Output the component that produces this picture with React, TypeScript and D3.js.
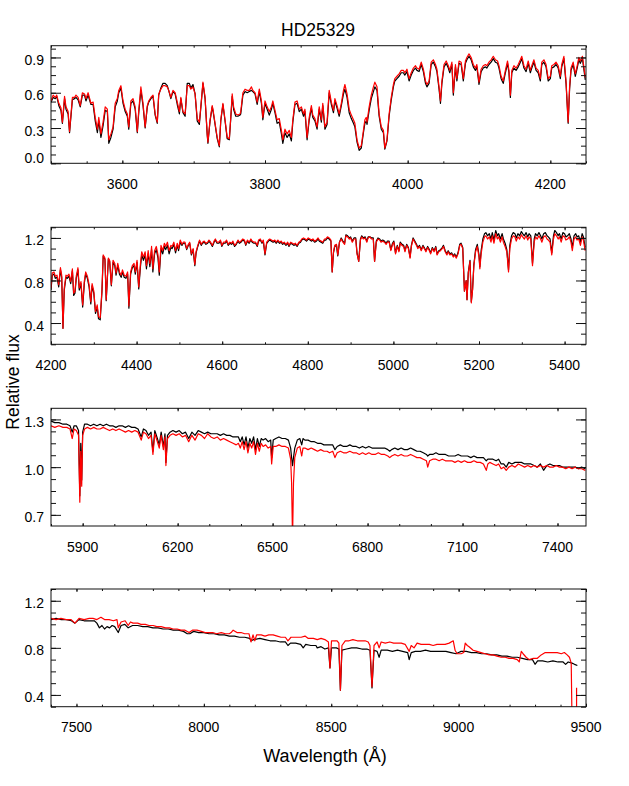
import React, { useEffect, useRef } from "react";
import * as d3 from "d3";

// ---------- panel 1 : 3500 - 4250 A ----------
const wl1 = [
  3500, 3503, 3506, 3508, 3511, 3514, 3516, 3519, 3521, 3524,
  3526, 3530, 3533, 3535, 3538, 3541, 3544, 3547, 3549, 3552,
  3556, 3559, 3562, 3565, 3567, 3570, 3573, 3576, 3579, 3581,
  3584, 3587, 3590, 3593, 3595, 3598, 3601, 3604, 3607, 3609,
  3612, 3615, 3618, 3621, 3623, 3626, 3629, 3632, 3635, 3637,
  3640, 3643, 3646, 3649, 3651, 3654, 3657, 3660, 3663, 3665,
  3668, 3671, 3674, 3677, 3680, 3682, 3685, 3688, 3691, 3694,
  3696, 3699, 3702, 3705, 3708, 3710, 3713, 3716, 3719, 3720,
  3723, 3726, 3727, 3730, 3733, 3736, 3738, 3741, 3744, 3747,
  3750, 3752, 3754, 3756, 3759, 3762, 3765, 3766, 3769, 3772,
  3775, 3778, 3781, 3783, 3786, 3789, 3792, 3795, 3797, 3800,
  3803, 3806, 3809, 3811, 3814, 3817, 3820, 3823, 3825, 3828,
  3831, 3834, 3837, 3839, 3842, 3845, 3848, 3851, 3854, 3856,
  3859, 3862, 3865, 3867, 3870, 3873, 3876, 3879, 3881, 3884,
  3887, 3890, 3893, 3896, 3898, 3901, 3904, 3907, 3910, 3912,
  3915, 3918, 3921, 3924, 3926, 3929, 3932, 3935, 3938, 3940,
  3942, 3943, 3946, 3949, 3952, 3954, 3957, 3960, 3963, 3966,
  3968, 3971, 3974, 3977, 3980, 3982, 3985, 3988, 3991, 3994,
  3996, 3999, 4002, 4005, 4008, 4011, 4013, 4016, 4019, 4022,
  4025, 4027, 4030, 4033, 4036, 4039, 4041, 4044, 4046, 4048,
  4051, 4054, 4057, 4059, 4062, 4064, 4067, 4069, 4072, 4075,
  4078, 4081, 4083, 4086, 4089, 4092, 4095, 4097, 4100, 4103,
  4106, 4109, 4111, 4114, 4117, 4120, 4123, 4126, 4128, 4131,
  4134, 4137, 4140, 4142, 4144, 4146, 4149, 4152, 4155, 4158,
  4160, 4163, 4166, 4169, 4172, 4174, 4177, 4180, 4183, 4186,
  4188, 4191, 4194, 4197, 4200, 4202, 4205, 4208, 4211, 4214,
  4216, 4219, 4222, 4225, 4227, 4229, 4232, 4235, 4238, 4240,
  4242, 4245, 4249,
];
const red1 = [
  0.53, 0.58, 0.56, 0.58, 0.51, 0.47, 0.35, 0.57, 0.48, 0.44,
  0.27, 0.56, 0.56, 0.58, 0.56, 0.49, 0.6, 0.59, 0.55, 0.6,
  0.51, 0.52, 0.39, 0.29, 0.39, 0.25, 0.35, 0.48, 0.46, 0.2,
  0.25, 0.31, 0.51, 0.55, 0.62, 0.66, 0.53, 0.46, 0.42, 0.31,
  0.53, 0.55, 0.48, 0.27, 0.45, 0.65, 0.51, 0.31, 0.49, 0.53,
  0.56, 0.58, 0.42, 0.35, 0.59, 0.63, 0.66, 0.66, 0.65, 0.62,
  0.56, 0.62, 0.6, 0.52, 0.44, 0.56, 0.44, 0.42, 0.66, 0.66,
  0.63, 0.65, 0.59, 0.38, 0.35, 0.48, 0.69, 0.56, 0.25, 0.18,
  0.37, 0.49, 0.46, 0.34, 0.22, 0.15, 0.37, 0.51, 0.37, 0.22,
  0.21, 0.39, 0.59, 0.48, 0.42, 0.41, 0.42, 0.44, 0.6, 0.63,
  0.62, 0.62, 0.65, 0.62, 0.6, 0.52, 0.63, 0.53, 0.39, 0.53,
  0.48, 0.44, 0.48, 0.53, 0.45, 0.37, 0.38, 0.28, 0.2, 0.29,
  0.25, 0.28, 0.22, 0.37, 0.52, 0.53, 0.46, 0.48, 0.42, 0.46,
  0.22, 0.39, 0.49, 0.41, 0.38, 0.31, 0.48, 0.37, 0.51, 0.31,
  0.35, 0.62, 0.52, 0.45, 0.55, 0.49, 0.42, 0.51, 0.62, 0.67,
  0.59, 0.46, 0.41, 0.37, 0.34, 0.2, 0.13, 0.15, 0.28, 0.37,
  0.39, 0.35, 0.48, 0.58, 0.65, 0.69, 0.65, 0.42, 0.31, 0.28,
  0.13, 0.2, 0.42, 0.56, 0.67, 0.72, 0.74, 0.76, 0.79, 0.79,
  0.77, 0.8, 0.72, 0.77, 0.81, 0.83, 0.81, 0.8, 0.86, 0.8,
  0.7, 0.67, 0.7, 0.86, 0.88, 0.84, 0.8, 0.65, 0.53, 0.7,
  0.84, 0.87, 0.83, 0.79, 0.86, 0.6, 0.84, 0.72, 0.87, 0.86,
  0.72, 0.87, 0.9, 0.93, 0.9, 0.84, 0.81, 0.84, 0.69, 0.8,
  0.83, 0.84, 0.83, 0.86, 0.88, 0.91, 0.88, 0.87, 0.83, 0.74,
  0.7, 0.79, 0.87, 0.79, 0.58, 0.79, 0.83, 0.81, 0.84, 0.88,
  0.91, 0.83, 0.8, 0.87, 0.79, 0.83, 0.88, 0.81, 0.79, 0.72,
  0.86, 0.88, 0.84, 0.72, 0.74, 0.83, 0.84, 0.86, 0.83, 0.74,
  0.84, 0.91, 0.7, 0.35, 0.65, 0.81, 0.86, 0.76, 0.84, 0.9,
  0.87, 0.91, 0.73,
];
const black1 = [
  0.52, 0.56, 0.55, 0.57, 0.49, 0.45, 0.34, 0.55, 0.46, 0.42,
  0.26, 0.54, 0.55, 0.56, 0.54, 0.48, 0.58, 0.58, 0.53, 0.58,
  0.5, 0.5, 0.36, 0.26, 0.36, 0.22, 0.32, 0.45, 0.44, 0.17,
  0.22, 0.29, 0.48, 0.53, 0.6, 0.64, 0.51, 0.44, 0.4, 0.29,
  0.51, 0.53, 0.46, 0.26, 0.43, 0.62, 0.49, 0.3, 0.48, 0.52,
  0.55, 0.57, 0.41, 0.34, 0.58, 0.64, 0.68, 0.68, 0.66, 0.62,
  0.55, 0.61, 0.59, 0.5, 0.42, 0.55, 0.43, 0.4, 0.68, 0.68,
  0.64, 0.67, 0.59, 0.36, 0.33, 0.47, 0.68, 0.55, 0.24, 0.17,
  0.36, 0.48, 0.45, 0.33, 0.21, 0.14, 0.36, 0.5, 0.36, 0.21,
  0.2, 0.38, 0.57, 0.46, 0.4, 0.4, 0.41, 0.42, 0.58, 0.61,
  0.6, 0.61, 0.62, 0.61, 0.59, 0.5, 0.61, 0.51, 0.37, 0.51,
  0.46, 0.41, 0.46, 0.51, 0.43, 0.34, 0.35, 0.25, 0.17, 0.26,
  0.22, 0.25, 0.19, 0.35, 0.5, 0.51, 0.44, 0.46, 0.4, 0.44,
  0.2, 0.37, 0.47, 0.39, 0.36, 0.29, 0.46, 0.35, 0.49, 0.29,
  0.33, 0.6, 0.5, 0.43, 0.53, 0.47, 0.4, 0.49, 0.59, 0.63,
  0.56, 0.43, 0.38, 0.34, 0.31, 0.18, 0.11, 0.13, 0.26, 0.34,
  0.36, 0.33, 0.45, 0.55, 0.61, 0.65, 0.62, 0.4, 0.29, 0.26,
  0.12, 0.19, 0.4, 0.54, 0.65, 0.7, 0.72, 0.74, 0.77, 0.77,
  0.75, 0.78, 0.7, 0.75, 0.79, 0.81, 0.79, 0.78, 0.84, 0.78,
  0.68, 0.65, 0.68, 0.84, 0.86, 0.82, 0.78, 0.63, 0.51, 0.68,
  0.82, 0.85, 0.81, 0.77, 0.84, 0.58, 0.82, 0.7, 0.85, 0.84,
  0.7, 0.85, 0.88, 0.91, 0.88, 0.82, 0.79, 0.82, 0.67, 0.78,
  0.81, 0.82, 0.81, 0.84, 0.86, 0.89, 0.86, 0.85, 0.81, 0.72,
  0.68, 0.77, 0.85, 0.77, 0.56, 0.77, 0.81, 0.79, 0.82, 0.86,
  0.89, 0.81, 0.78, 0.85, 0.77, 0.81, 0.86, 0.79, 0.77, 0.7,
  0.84, 0.86, 0.82, 0.7, 0.72, 0.81, 0.82, 0.84, 0.81, 0.72,
  0.82, 0.89, 0.68, 0.34, 0.63, 0.79, 0.84, 0.74, 0.82, 0.88,
  0.85, 0.89, 0.71,
];

// ---------- panel 2 : 4200 - 5450 A ----------
const wl2 = [
  4200, 4203, 4207, 4210, 4214, 4218, 4222, 4225, 4228, 4231,
  4235, 4238, 4242, 4246, 4250, 4253, 4256, 4259, 4263, 4266,
  4270, 4274, 4278, 4281, 4285, 4289, 4293, 4296, 4300, 4304,
  4308, 4311, 4315, 4319, 4322, 4326, 4329, 4334, 4337, 4341,
  4345, 4349, 4352, 4356, 4360, 4364, 4367, 4371, 4375, 4379,
  4382, 4386, 4390, 4394, 4397, 4401, 4405, 4409, 4412, 4416,
  4420, 4423, 4427, 4431, 4435, 4438, 4442, 4446, 4450, 4453,
  4457, 4461, 4465, 4468, 4472, 4476, 4480, 4483, 4487, 4491,
  4495, 4498, 4502, 4506, 4509, 4513, 4517, 4521, 4524, 4528,
  4532, 4536, 4539, 4543, 4547, 4551, 4554, 4558, 4562, 4566,
  4569, 4573, 4577, 4581, 4584, 4588, 4592, 4596, 4599, 4603,
  4607, 4610, 4614, 4618, 4622, 4625, 4629, 4633, 4637, 4640,
  4644, 4648, 4652, 4655, 4659, 4663, 4667, 4670, 4674, 4678,
  4682, 4685, 4689, 4693, 4696, 4700, 4704, 4708, 4711, 4715,
  4719, 4723, 4726, 4730, 4734, 4738, 4741, 4745, 4749, 4753,
  4756, 4760, 4764, 4768, 4771, 4775, 4779, 4783, 4786, 4790,
  4794, 4797, 4801, 4805, 4809, 4812, 4816, 4820, 4824, 4827,
  4831, 4835, 4839, 4842, 4846, 4850, 4854, 4857, 4860, 4863,
  4867, 4870, 4874, 4878, 4882, 4886, 4889, 4893, 4897, 4900,
  4904, 4908, 4912, 4915, 4919, 4923, 4926, 4930, 4934, 4938,
  4941, 4945, 4949, 4953, 4956, 4960, 4964, 4968, 4971, 4975,
  4979, 4983, 4986, 4990, 4994, 4998, 5001, 5005, 5009, 5013,
  5016, 5020, 5024, 5027, 5031, 5035, 5039, 5042, 5046, 5050,
  5054, 5057, 5061, 5065, 5069, 5072, 5076, 5080, 5084, 5087,
  5091, 5095, 5099, 5102, 5106, 5110, 5114, 5117, 5121, 5125,
  5128, 5132, 5136, 5140, 5143, 5147, 5151, 5155, 5158, 5162,
  5166, 5170, 5172, 5175, 5179, 5182, 5185, 5188, 5192, 5196,
  5200, 5202, 5205, 5209, 5213, 5216, 5220, 5224, 5228, 5231,
  5235, 5239, 5243, 5246, 5250, 5254, 5257, 5261, 5265, 5269,
  5272, 5276, 5280, 5284, 5287, 5291, 5295, 5299, 5302, 5306,
  5310, 5314, 5317, 5321, 5325, 5329, 5332, 5336, 5340, 5344,
  5347, 5351, 5355, 5359, 5362, 5366, 5370, 5374, 5377, 5381,
  5385, 5388, 5392, 5396, 5400, 5403, 5407, 5411, 5415, 5418,
  5422, 5426, 5429, 5433, 5437, 5441, 5444, 5448,
];
const red2 = [
  0.73, 0.87, 0.88, 0.84, 0.85, 0.76, 0.92, 0.85, 0.35, 0.73,
  0.85, 0.84, 0.86, 0.79, 0.91, 0.68, 0.7, 0.84, 0.92, 0.73,
  0.79, 0.57, 0.8, 0.88, 0.84, 0.76, 0.6, 0.77, 0.7, 0.51,
  0.57, 0.46, 0.45, 0.71, 1.04, 1.01, 0.62, 1.01, 0.99, 0.76,
  0.99, 0.96, 0.87, 0.96, 0.88, 0.85, 0.9, 0.85, 0.84, 0.88,
  0.56, 0.88, 0.94, 0.96, 0.88, 0.99, 0.74, 0.96, 1.07, 1.02,
  1.07, 0.94, 1.08, 0.96, 1.12, 0.91, 1.08, 1.12, 1.04, 0.88,
  1.13, 1.08, 1.15, 1.12, 1.16, 1.08, 1.13, 1.12, 1.16, 1.08,
  1.15, 1.1, 1.18, 1.14, 1.16, 1.16, 1.1, 1.14, 1.16, 1.05,
  1.1, 0.95, 1.07, 1.13, 1.18, 1.14, 1.16, 1.17, 1.15, 1.16,
  1.18, 1.16, 1.13, 1.17, 1.19, 1.16, 1.16, 1.18, 1.13, 1.16,
  1.16, 1.18, 1.14, 1.16, 1.15, 1.17, 1.13, 1.15, 1.18, 1.16,
  1.17, 1.19, 1.18, 1.14, 1.18, 1.16, 1.19, 1.17, 1.16, 1.16,
  1.13, 1.18, 1.19, 1.16, 1.18, 1.05, 1.16, 1.18, 1.19, 1.18,
  1.17, 1.18, 1.16, 1.18, 1.16, 1.17, 1.15, 1.16, 1.14, 1.16,
  1.13, 1.16, 1.15, 1.14, 1.15, 1.13, 1.16, 1.17, 1.19, 1.2,
  1.19, 1.18, 1.2, 1.19, 1.18, 1.19, 1.17, 1.18, 1.2, 1.18,
  1.17, 1.16, 1.19, 1.19, 1.21, 1.2, 1.18, 0.88, 1.07, 1.13,
  1.14, 1.04, 1.16, 1.19, 1.16, 1.14, 1.22, 1.21, 1.19, 1.2,
  1.16, 1.19, 1.19, 1.05, 0.98, 1.18, 1.21, 1.19, 1.2, 1.16,
  1.2, 1.21, 1.19, 1.19, 0.98, 1.16, 1.19, 1.18, 1.16, 1.17,
  1.16, 1.14, 1.16, 1.16, 1.08, 1.14, 1.16, 1.05, 1.12, 1.07,
  1.15, 1.13, 1.12, 1.07, 1.13, 1.1, 1.01, 1.12, 1.19, 1.16,
  1.13, 1.1, 1.12, 1.08, 1.12, 1.1, 1.07, 1.11, 1.08, 1.05,
  1.1, 1.07, 1.11, 1.04, 1.07, 1.08, 1.1, 1.12, 1.07, 1.04,
  1.07, 1.04, 1.05, 1.02, 1.04, 1.01, 1.05, 1.13, 1.14, 1.1,
  0.7, 0.8, 0.62, 0.87, 0.98, 0.59, 0.71, 0.94, 1.07, 1.12,
  1.02, 0.91, 1.05, 1.16, 1.21, 1.22, 1.19, 1.21, 1.16, 1.22,
  1.15, 1.24, 1.19, 1.21, 1.16, 1.21, 1.16, 1.12, 1.07, 0.88,
  1.1, 1.19, 1.22, 1.21, 1.17, 1.21, 1.19, 1.23, 1.21, 1.19,
  1.22, 1.18, 1.21, 1.19, 0.94, 1.16, 1.21, 1.19, 1.22, 1.19,
  1.16, 1.21, 1.22, 1.19, 1.18, 1.16, 1.04, 1.19, 1.24, 1.22,
  1.19, 1.21, 1.16, 1.22, 1.21, 1.18, 1.19, 1.21, 1.16, 1.08,
  1.19, 1.21, 1.18, 1.19, 1.13, 1.21, 1.18, 1.08,
];
const black2 = [
  0.71, 0.85, 0.86, 0.82, 0.83, 0.74, 0.9, 0.83, 0.35, 0.71,
  0.83, 0.82, 0.84, 0.77, 0.89, 0.66, 0.68, 0.82, 0.9, 0.71,
  0.77, 0.55, 0.78, 0.86, 0.82, 0.74, 0.58, 0.75, 0.68, 0.49,
  0.55, 0.44, 0.43, 0.69, 1.03, 1.0, 0.61, 1.0, 0.98, 0.75,
  0.97, 0.94, 0.85, 0.94, 0.86, 0.83, 0.88, 0.83, 0.82, 0.86,
  0.54, 0.86, 0.92, 0.94, 0.86, 0.97, 0.72, 0.93, 1.04, 0.99,
  1.04, 0.91, 1.05, 0.93, 1.09, 0.88, 1.05, 1.09, 1.01, 0.85,
  1.1, 1.05, 1.12, 1.09, 1.13, 1.05, 1.11, 1.1, 1.14, 1.06,
  1.13, 1.08, 1.16, 1.13, 1.15, 1.15, 1.09, 1.13, 1.15, 1.04,
  1.09, 0.94, 1.06, 1.12, 1.17, 1.13, 1.15, 1.16, 1.14, 1.15,
  1.17, 1.15, 1.12, 1.16, 1.18, 1.15, 1.15, 1.17, 1.12, 1.15,
  1.15, 1.17, 1.13, 1.15, 1.14, 1.16, 1.12, 1.14, 1.17, 1.15,
  1.16, 1.18, 1.17, 1.13, 1.17, 1.15, 1.18, 1.16, 1.15, 1.15,
  1.12, 1.17, 1.18, 1.15, 1.17, 1.04, 1.15, 1.17, 1.18, 1.17,
  1.16, 1.17, 1.15, 1.17, 1.15, 1.16, 1.14, 1.15, 1.13, 1.15,
  1.12, 1.15, 1.14, 1.13, 1.14, 1.12, 1.15, 1.16, 1.18, 1.19,
  1.18, 1.17, 1.19, 1.18, 1.17, 1.18, 1.16, 1.17, 1.19, 1.17,
  1.16, 1.15, 1.18, 1.18, 1.2, 1.19, 1.17, 0.88, 1.06, 1.12,
  1.13, 1.03, 1.16, 1.2, 1.17, 1.15, 1.23, 1.22, 1.2, 1.21,
  1.17, 1.2, 1.2, 1.06, 0.98, 1.19, 1.22, 1.2, 1.21, 1.17,
  1.21, 1.21, 1.2, 1.2, 0.98, 1.17, 1.2, 1.19, 1.17, 1.18,
  1.17, 1.15, 1.17, 1.17, 1.09, 1.15, 1.17, 1.06, 1.13, 1.08,
  1.16, 1.14, 1.13, 1.08, 1.14, 1.11, 1.02, 1.13, 1.2, 1.17,
  1.14, 1.11, 1.13, 1.09, 1.13, 1.11, 1.08, 1.12, 1.09, 1.06,
  1.11, 1.08, 1.12, 1.05, 1.08, 1.09, 1.11, 1.13, 1.08, 1.05,
  1.08, 1.05, 1.06, 1.03, 1.05, 1.02, 1.06, 1.14, 1.15, 1.11,
  0.7, 0.8, 0.62, 0.88, 0.99, 0.6, 0.72, 0.95, 1.09, 1.14,
  1.04, 0.93, 1.08, 1.19, 1.24, 1.25, 1.22, 1.24, 1.19, 1.25,
  1.18, 1.27, 1.22, 1.24, 1.19, 1.24, 1.19, 1.15, 1.09, 0.9,
  1.13, 1.22, 1.25, 1.24, 1.2, 1.24, 1.22, 1.26, 1.24, 1.22,
  1.25, 1.21, 1.24, 1.22, 0.96, 1.19, 1.24, 1.22, 1.25, 1.22,
  1.19, 1.24, 1.25, 1.22, 1.21, 1.19, 1.06, 1.22, 1.27, 1.25,
  1.22, 1.24, 1.19, 1.25, 1.24, 1.21, 1.22, 1.24, 1.19, 1.11,
  1.22, 1.24, 1.21, 1.22, 1.16, 1.24, 1.21, 1.11,
];

// ---------- panel 3 : 5800 - 7490 A ----------
const wl3 = [
  5800, 5812, 5825, 5838, 5850, 5860, 5867, 5873, 5880, 5887,
  5891, 5894, 5897, 5900, 5906, 5915, 5925, 5935, 5945, 5955,
  5965, 5975, 5985, 5995, 6005, 6015, 6025, 6035, 6045, 6055,
  6065, 6075, 6085, 6092, 6100, 6108, 6116, 6122, 6128, 6136,
  6142, 6148, 6155, 6160, 6163, 6168, 6176, 6185, 6195, 6205,
  6215, 6225, 6235, 6245, 6255, 6265, 6275, 6285, 6295, 6305,
  6315, 6325, 6335, 6345, 6355, 6365, 6375, 6385, 6392, 6398,
  6404, 6410, 6416, 6422, 6428, 6434, 6440, 6446, 6452, 6458,
  6464, 6470, 6478, 6486, 6494, 6497, 6502, 6510, 6520, 6530,
  6540, 6550, 6557, 6560, 6563, 6566, 6570, 6578, 6586, 6592,
  6596, 6602, 6612, 6622, 6632, 6642, 6652, 6662, 6672, 6680,
  6690, 6697, 6704, 6714, 6724, 6734, 6744, 6754, 6764, 6774,
  6784, 6794, 6804, 6814, 6824, 6834, 6844, 6854, 6864, 6870,
  6876, 6886, 6896, 6906, 6916, 6926, 6936, 6946, 6956, 6966,
  6976, 6986, 6990, 6996, 7006, 7016, 7026, 7036, 7046, 7056,
  7066, 7076, 7086, 7096, 7106, 7116, 7126, 7136, 7146, 7156,
  7166, 7175, 7180, 7186, 7196, 7206, 7214, 7222, 7230, 7238,
  7246, 7256, 7266, 7276, 7286, 7296, 7306, 7316, 7326, 7336,
  7346, 7356, 7366, 7376, 7386, 7396, 7406, 7416, 7426, 7436,
  7446, 7456, 7466, 7476, 7488,
];
const red3 = [
  1.26, 1.25, 1.26, 1.25, 1.25, 1.24, 1.18, 1.24, 1.23, 1.2,
  0.78, 1.1, 0.88, 1.2, 1.24, 1.25, 1.24, 1.25, 1.24, 1.24,
  1.25, 1.24, 1.23, 1.24, 1.23, 1.24, 1.23, 1.22, 1.23, 1.22,
  1.23, 1.22, 1.17, 1.22, 1.21, 1.18, 1.2, 1.08, 1.21, 1.16,
  1.12, 1.2, 1.11, 1.19, 1.01, 1.18, 1.2, 1.21, 1.2, 1.21,
  1.19, 1.2, 1.16, 1.2, 1.17, 1.21, 1.2, 1.18, 1.21, 1.19,
  1.18, 1.19, 1.17, 1.18, 1.17, 1.16, 1.15, 1.14, 1.15, 1.12,
  1.16, 1.11, 1.16, 1.09, 1.15, 1.12, 1.16, 1.08, 1.15, 1.1,
  1.15, 1.13, 1.14, 1.12, 1.13, 1.02, 1.13, 1.13, 1.14, 1.13,
  1.13, 1.12, 1.05, 0.9, 0.55, 0.9, 1.06, 1.12, 1.13, 1.07,
  1.12, 1.12, 1.11, 1.12, 1.11, 1.1, 1.11, 1.1, 1.1, 1.09,
  1.1, 1.06, 1.09, 1.1, 1.09, 1.09, 1.1, 1.09, 1.09, 1.08,
  1.09, 1.08, 1.09, 1.08, 1.08, 1.09, 1.08, 1.08, 1.07, 1.06,
  1.07, 1.08, 1.07, 1.08, 1.07, 1.07, 1.08, 1.07, 1.06, 1.06,
  1.05, 1.04, 1.0, 1.04, 1.05, 1.05, 1.04, 1.05, 1.04, 1.04,
  1.04, 1.03, 1.04, 1.03, 1.04, 1.03, 1.03, 1.04, 1.03, 1.03,
  1.02, 0.98, 1.02, 1.03, 1.02, 1.01, 1.02, 0.99, 1.0, 0.98,
  1.0, 1.01, 1.0, 1.02, 1.01, 1.0, 1.01, 1.0, 1.01, 1.0,
  1.01, 1.0, 1.01, 1.0, 1.0, 1.01, 1.0, 1.0, 0.99, 1.0,
  0.99, 1.0, 0.99, 0.99, 0.98,
];
const black3 = [
  1.29, 1.28, 1.28, 1.27, 1.27, 1.26, 1.22, 1.26, 1.26, 1.23,
  0.82, 1.15, 0.92, 1.22, 1.27, 1.27, 1.26, 1.27, 1.26, 1.27,
  1.26, 1.27, 1.26, 1.26, 1.25, 1.26, 1.26, 1.25, 1.26, 1.25,
  1.25, 1.24, 1.19, 1.24, 1.23, 1.2, 1.22, 1.1, 1.23, 1.18,
  1.14, 1.22, 1.13, 1.21, 1.03, 1.2, 1.22, 1.23, 1.22, 1.23,
  1.21, 1.22, 1.18, 1.22, 1.2, 1.23, 1.22, 1.21, 1.22, 1.21,
  1.21, 1.21, 1.2, 1.21, 1.2, 1.2, 1.19, 1.19, 1.19, 1.16,
  1.19, 1.14, 1.19, 1.12, 1.18, 1.15, 1.19, 1.11, 1.18, 1.13,
  1.18, 1.17, 1.18, 1.16, 1.17, 1.06, 1.17, 1.18, 1.19, 1.18,
  1.18, 1.17, 1.12, 1.06, 1.01, 1.06, 1.12, 1.17, 1.18, 1.14,
  1.18, 1.17, 1.17, 1.16, 1.16, 1.15, 1.15, 1.14, 1.14, 1.14,
  1.14, 1.11, 1.13, 1.14, 1.13, 1.13, 1.14, 1.13, 1.13, 1.12,
  1.13, 1.12, 1.13, 1.12, 1.12, 1.12, 1.12, 1.12, 1.11, 1.1,
  1.11, 1.12, 1.11, 1.12, 1.11, 1.11, 1.12, 1.11, 1.1, 1.1,
  1.09, 1.08, 1.07, 1.08, 1.08, 1.09, 1.08, 1.08, 1.08, 1.07,
  1.07, 1.07, 1.08, 1.07, 1.07, 1.07, 1.06, 1.07, 1.06, 1.06,
  1.06, 1.04, 1.05, 1.05, 1.05, 1.04, 1.05, 1.02, 1.02, 1.0,
  1.03, 1.02, 1.03, 1.03, 1.03, 1.02, 1.02, 1.02, 1.01, 1.0,
  1.02, 0.98, 1.01, 1.02, 1.01, 1.01, 1.01, 1.0, 1.0, 1.0,
  1.0, 1.0, 0.99, 1.0, 0.99,
];

// ---------- panel 4 : 7400 - 9500 A ----------
const wl4Red = [
  7400, 7420, 7439, 7460, 7479, 7494, 7510, 7530, 7550, 7565,
  7580, 7596, 7610, 7628, 7645, 7659, 7664, 7675, 7691, 7703,
  7712, 7722, 7740, 7753, 7770, 7785, 7801, 7815, 7832, 7850,
  7865, 7879, 7895, 7910, 7926, 7942, 7955, 7973, 7990, 8005,
  8020, 8035, 8050, 8068, 8085, 8100, 8107, 8115, 8130, 8146,
  8160, 8177, 8185, 8193, 8200, 8207, 8225, 8240, 8255, 8272,
  8288, 8303, 8320, 8330, 8342, 8360, 8382, 8397, 8410, 8430,
  8445, 8460, 8475, 8489, 8495, 8501, 8515, 8523, 8530, 8536,
  8542, 8555, 8570, 8585, 8602, 8618, 8633, 8645, 8652, 8660,
  8668, 8680, 8688, 8696, 8712, 8730, 8745, 8759, 8775, 8790,
  8806, 8814, 8825, 8837, 8853, 8869, 8885, 8900, 8915, 8931,
  8947, 8963, 8979, 8986, 8994, 9010, 9020, 9026, 9034, 9041,
  9057, 9072, 9088, 9104, 9120, 9135, 9151, 9167, 9183, 9198,
  9214, 9230, 9238, 9246, 9253, 9265, 9277, 9293, 9308, 9324,
  9340, 9356, 9371, 9387, 9403, 9415, 9426, 9435, 9442, 9445,
];
const red4 = [
  1.05, 1.04, 1.05, 1.04, 1.04, 1.01, 1.05, 1.04, 1.05, 1.05,
  1.04, 1.06, 1.04, 1.04, 1.03, 1.04, 0.97, 1.02, 1.03, 0.99,
  1.02, 1.01, 1.01, 1.0, 1.0, 0.99, 0.99, 0.98, 0.98, 0.97,
  0.97, 0.96, 0.96, 0.95, 0.95, 0.93, 0.95, 0.95, 0.94, 0.93,
  0.93, 0.93, 0.92, 0.93, 0.92, 0.92, 0.93, 0.95, 0.93, 0.93,
  0.92, 0.92, 0.85, 0.91, 0.86, 0.91, 0.91, 0.9, 0.91, 0.91,
  0.9, 0.89, 0.89, 0.86, 0.89, 0.89, 0.89, 0.9, 0.88, 0.88,
  0.87, 0.88, 0.87, 0.85, 0.63, 0.86, 0.86, 0.86, 0.84, 0.44,
  0.82, 0.86, 0.86, 0.87, 0.86, 0.86, 0.86, 0.85, 0.82, 0.47,
  0.82, 0.85, 0.8, 0.85, 0.84, 0.85, 0.84, 0.84, 0.84, 0.83,
  0.77, 0.82, 0.8, 0.84, 0.83, 0.83, 0.83, 0.82, 0.83, 0.83,
  0.83, 0.84, 0.86, 0.78, 0.75, 0.75, 0.76, 0.84, 0.82, 0.81,
  0.78, 0.77, 0.76, 0.75, 0.74, 0.74, 0.73, 0.72, 0.72, 0.71,
  0.71, 0.7, 0.68, 0.77, 0.75, 0.72, 0.7, 0.71, 0.71, 0.74,
  0.76, 0.76, 0.76, 0.76, 0.75, 0.76, 0.74, 0.72, 0.67, 0.2,
];
const wl4RedTail = [9463, 9463];
const red4Tail = [0.46, 0.2];
const wl4Black = [
  7400, 7420, 7440, 7460, 7480, 7494, 7510, 7530, 7550, 7570,
  7580, 7590, 7600, 7610, 7620, 7630, 7640, 7650, 7664, 7675,
  7690, 7703, 7720, 7740, 7760, 7780, 7800, 7820, 7840, 7860,
  7880, 7900, 7920, 7935, 7945, 7960, 7980, 8000, 8020, 8040,
  8060, 8080, 8100, 8120, 8140, 8160, 8180, 8185, 8195, 8220,
  8240, 8260, 8280, 8300, 8320, 8330, 8340, 8360, 8380, 8390,
  8400, 8420, 8440, 8445, 8460, 8475, 8489, 8495, 8501, 8520,
  8530, 8536, 8542, 8560, 8580, 8600, 8620, 8640, 8652, 8660,
  8668, 8680, 8688, 8696, 8720, 8740, 8760, 8780, 8800, 8806,
  8814, 8830, 8850, 8870, 8890, 8910, 8930, 8950, 8970, 8990,
  9000, 9010, 9030, 9050, 9070, 9090, 9110, 9130, 9150, 9170,
  9190, 9210, 9230, 9250, 9270, 9290, 9300, 9310, 9330, 9350,
  9370, 9390, 9410, 9420, 9430, 9445, 9455, 9466,
];
const black4 = [
  1.04, 1.05, 1.04, 1.04, 1.03, 1.01, 1.04, 1.03, 1.03, 1.03,
  1.01, 0.97, 0.99, 0.96, 0.98, 0.97, 0.99, 0.98, 0.93, 0.99,
  1.0, 0.97, 0.99, 0.99, 0.98, 0.98, 0.97, 0.97, 0.96, 0.96,
  0.95, 0.95, 0.94, 0.92, 0.92, 0.94, 0.93, 0.93, 0.92, 0.92,
  0.91, 0.91, 0.9, 0.9, 0.89, 0.89, 0.88, 0.86, 0.87, 0.88,
  0.87, 0.86, 0.86, 0.85, 0.85, 0.82, 0.84, 0.84, 0.83, 0.8,
  0.83, 0.82, 0.82, 0.8, 0.81, 0.79, 0.8, 0.63, 0.8, 0.8,
  0.79, 0.44, 0.78, 0.79, 0.8, 0.8, 0.79, 0.79, 0.78, 0.46,
  0.78, 0.77, 0.72, 0.78, 0.78, 0.77, 0.78, 0.77, 0.76, 0.7,
  0.76, 0.77, 0.77, 0.78, 0.77, 0.77, 0.77, 0.77, 0.76, 0.75,
  0.76, 0.77, 0.77, 0.76, 0.76, 0.75, 0.75, 0.74, 0.74, 0.73,
  0.73, 0.72, 0.72, 0.71, 0.7, 0.7, 0.66, 0.69, 0.69, 0.68,
  0.69, 0.68, 0.68, 0.66, 0.68, 0.67, 0.66, 0.65,
];

const BLACK = "#000000";
const RED = "#ff0000";
const FONT = "'Liberation Sans', Arial, Helvetica, sans-serif";

const panels = [
  {
    top: 45.7, bottom: 163.3, xDomain: [3500, 4250], yDomain: [0, 1.0],
    xTicks: [3600, 3800, 4000, 4200], xMinor: 50,
    yTicks: [0, 0.3, 0.6, 0.9], yMinor: 0.075,
    series: [
      { x: wl1, y: black1, color: BLACK },
      { x: wl1, y: red1, color: RED },
    ],
  },
  {
    top: 227.3, bottom: 344.3, xDomain: [4200, 5450], yDomain: [0.2, 1.3],
    xTicks: [4200, 4400, 4600, 4800, 5000, 5200, 5400], xMinor: 100,
    yTicks: [0.4, 0.8, 1.2], yMinor: 0.1,
    series: [
      { x: wl2, y: black2, color: BLACK },
      { x: wl2, y: red2, color: RED },
    ],
  },
  {
    top: 408.3, bottom: 526, xDomain: [5800, 7490], yDomain: [0.63, 1.37],
    xTicks: [5900, 6200, 6500, 6800, 7100, 7400], xMinor: 100,
    yTicks: [0.7, 1.0, 1.3], yMinor: 0.075,
    series: [
      { x: wl3, y: black3, color: BLACK },
      { x: wl3, y: red3, color: RED },
    ],
  },
  {
    top: 589, bottom: 706.7, xDomain: [7400, 9500], yDomain: [0.3, 1.3],
    xTicks: [7500, 8000, 8500, 9000, 9500], xMinor: 100,
    yTicks: [0.4, 0.8, 1.2], yMinor: 0.1,
    series: [
      { x: wl4Black, y: black4, color: BLACK },
      { x: wl4Red, y: red4, color: RED },
      { x: wl4RedTail, y: red4Tail, color: RED },
    ],
  },
];

// minor ticks anchored on the first major tick
function minorTicks(anchor: number, step: number, domain: number[]) {
  const lo = Math.min(domain[0], domain[1]) - 1e-6;
  const hi = Math.max(domain[0], domain[1]) + 1e-6;
  return d3.range(-60, 60).map((k) => anchor + k * step).filter((v) => v >= lo && v <= hi);
}

const App = () => {
  const ref = useRef<SVGSVGElement>(null);

  useEffect(() => {
    const svg = d3.select(ref.current);
    svg.selectAll("*").remove();
    const left = 51;
    const right = 586;

    panels.forEach((p, i) => {
      const x = d3.scaleLinear().domain(p.xDomain).range([left, right]);
      const y = d3.scaleLinear().domain(p.yDomain).range([p.bottom, p.top]);

      const clipId = "panel-clip-" + i;
      svg.append("clipPath").attr("id", clipId)
        .append("rect")
        .attr("x", left).attr("y", p.top)
        .attr("width", right - left).attr("height", p.bottom - p.top);

      const g = svg.append("g").attr("clip-path", `url(#${clipId})`);
      const line = d3.line<[number, number]>()
        .x((d) => x(d[0]))
        .y((d) => y(d[1]));

      p.series.forEach((s) => {
        const pts = s.x.map((v, k) => [v, s.y[k]] as [number, number]);
        g.append("path")
          .datum(pts)
          .attr("d", line)
          .attr("fill", "none")
          .attr("stroke", s.color)
          .attr("stroke-width", 1.2)
          .attr("stroke-linejoin", "round");
      });

      // frame
      svg.append("rect")
        .attr("x", left).attr("y", p.top)
        .attr("width", right - left).attr("height", p.bottom - p.top)
        .attr("fill", "none").attr("stroke", "#111").attr("stroke-width", 1);

      // inward ticks on all four sides
      const yMin = minorTicks(p.yTicks[0], p.yMinor, p.yDomain);
      const xMin = minorTicks(p.xTicks[0], p.xMinor, p.xDomain);
      const tickAxes = [
        { axis: d3.axisLeft(y).tickValues(yMin).tickSize(-5), tr: `translate(${left},0)` },
        { axis: d3.axisLeft(y).tickValues(p.yTicks).tickSize(-10), tr: `translate(${left},0)` },
        { axis: d3.axisRight(y).tickValues(yMin).tickSize(-5), tr: `translate(${right},0)` },
        { axis: d3.axisRight(y).tickValues(p.yTicks).tickSize(-10), tr: `translate(${right},0)` },
        { axis: d3.axisBottom(x).tickValues(xMin).tickSize(-2), tr: `translate(0,${p.bottom})` },
        { axis: d3.axisBottom(x).tickValues(p.xTicks).tickSize(-3), tr: `translate(0,${p.bottom})` },
        { axis: d3.axisTop(x).tickValues(xMin).tickSize(-2), tr: `translate(0,${p.top})` },
        { axis: d3.axisTop(x).tickValues(p.xTicks).tickSize(-3), tr: `translate(0,${p.top})` },
      ];
      tickAxes.forEach((a) => {
        const ax = svg.append("g").attr("transform", a.tr)
          .call(a.axis.tickFormat(() => ""));
        ax.select(".domain").remove();
        ax.selectAll("line").attr("stroke", "#111");
      });

      // tick labels
      svg.append("g")
        .selectAll("text")
        .data(p.yTicks)
        .enter()
        .append("text")
        .attr("x", left - 7)
        .attr("y", (d) => Math.min(y(d) + 7.5, p.bottom))
        .attr("text-anchor", "end")
        .style("font-family", FONT)
        .style("font-size", "14px")
        .attr("fill", "#000")
        .text((d) => d3.format(".1f")(d));

      svg.append("g")
        .selectAll("text")
        .data(p.xTicks)
        .enter()
        .append("text")
        .attr("x", (d) => x(d))
        .attr("y", p.bottom + 25.5)
        .attr("text-anchor", "middle")
        .style("font-family", FONT)
        .style("font-size", "14px")
        .attr("fill", "#000")
        .text((d) => String(d));
    });

    svg.append("text")
      .attr("x", 318).attr("y", 36)
      .attr("text-anchor", "middle")
      .style("font-family", FONT).style("font-size", "17.5px")
      .text("HD25329");

    svg.append("text")
      .attr("transform", "translate(19,382) rotate(-90)")
      .attr("text-anchor", "middle")
      .style("font-family", FONT).style("font-size", "17.5px")
      .text("Relative flux");

    svg.append("text")
      .attr("x", 325).attr("y", 762)
      .attr("text-anchor", "middle")
      .style("font-family", FONT).style("font-size", "18px")
      .text("Wavelength (Å)");
  }, []);

  return (
    <svg
      ref={ref}
      width={629}
      height={786}
      style={{ position: "absolute", left: 0, top: 0, background: "#fff" }}
    />
  );
};

export default App;
